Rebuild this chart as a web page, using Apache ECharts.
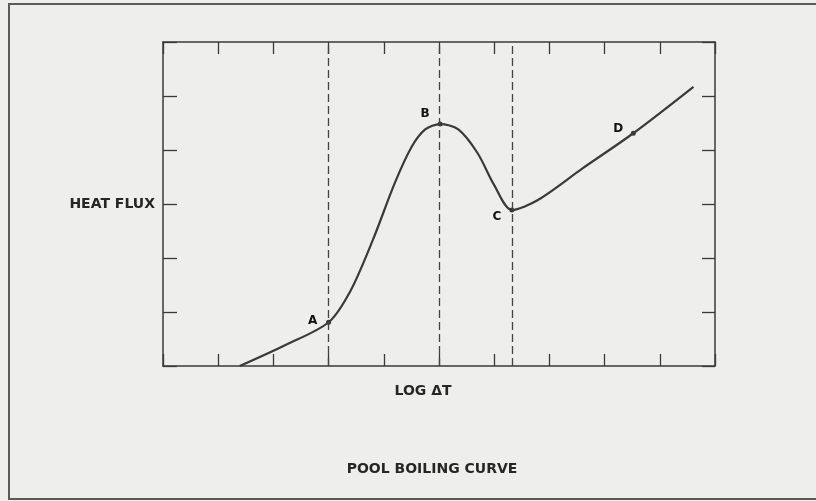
<!DOCTYPE html>
<html>
<head>
<meta charset="utf-8">
<script src="https://cdn.jsdelivr.net/npm/echarts@6/dist/echarts.min.js"></script>
<style>
html,body{margin:0;padding:0;background:#eeeeec;}
#chart{width:816px;height:501px;}
</style>
</head>
<body>
<div id="chart"></div>
<script>
// Curve (x = log ΔT units, y = heat flux units)
const curveX = [1.39, 2.2, 3.0, 3.4, 3.8, 4.2, 4.5, 4.75, 5.02, 5.35, 5.7, 6.0, 6.32, 6.8, 7.6, 8.52, 9.61];
const curveY = [0.0, 0.38, 0.81, 1.40, 2.33, 3.39, 4.05, 4.38, 4.48, 4.38, 3.94, 3.35, 2.89, 3.08, 3.66, 4.31, 5.17];
// Labelled points
const pointLabels = ['A', 'B', 'C', 'D'];
const pointX = [3.0, 5.02, 6.32, 8.52];
const pointY = [0.81, 4.48, 2.89, 4.31];
// Dashed regime boundaries
const regionBounds = [3.0, 5.0, 6.32];
// Axis ranges
const xRange = [0, 10, 1];
const yRange = [0, 6, 1];

const ink = '#3a3a3a';
const textInk = '#262626';
const font = 'DejaVu Sans';
const labelOffsets = {A: [-16, 7], B: [-15, -2], C: [-15, 15], D: [-15, 4]};

const chart = echarts.init(document.getElementById('chart'));
const axisBase = (pos, range, tickLen) => ({
  type: 'value', position: pos, min: range[0], max: range[1], interval: range[2],
  axisLine: {show: true, onZero: false, lineStyle: {color: ink, width: 1.5}},
  axisTick: {show: true, inside: true, length: tickLen, lineStyle: {color: ink, width: 1.3}},
  axisLabel: {show: false},
  splitLine: {show: false}
});
const xMain = Object.assign(axisBase('bottom', xRange, 12), {
  name: 'LOG ΔT', nameLocation: 'middle', nameGap: 18,
  nameTextStyle: {fontFamily: font, fontWeight: 'bold', fontSize: 14, color: textInk, padding: [0, 32, 0, 0]}
});
const yMain = Object.assign(axisBase('left', yRange, 14), {
  name: 'HEAT FLUX', nameLocation: 'middle', nameRotate: 0, nameGap: 8,
  nameTextStyle: {fontFamily: font, fontWeight: 'bold', fontSize: 14, color: textInk}
});

chart.setOption({
  backgroundColor: '#eeeeec',
  animation: false,
  title: {
    text: 'POOL BOILING CURVE', left: 427, top: 457, textAlign: 'center',
    textStyle: {fontFamily: font, fontWeight: 'bold', fontSize: 14, color: textInk}
  },
  grid: {left: 163, top: 42, width: 552, height: 324},
  xAxis: [xMain, axisBase('top', xRange, 12)],
  yAxis: [yMain, axisBase('right', yRange, 13)],
  graphic: [
    {type: 'polyline', shape: {points: [[816, 4], [9, 4], [9, 499], [816, 499]]},
     style: {stroke: '#5a5a5a', lineWidth: 2, fill: null}, silent: true}
  ],
  series: [
    {
      type: 'line', xAxisIndex: 0, yAxisIndex: 0,
      data: curveX.map((x, i) => [x, curveY[i]]),
      smooth: 0.3, showSymbol: false,
      lineStyle: {color: ink, width: 2.2},
      markLine: {
        silent: true, symbol: 'none', label: {show: false},
        lineStyle: {color: '#444', width: 1.3, type: [8, 4]},
        data: regionBounds.map(v => ({xAxis: v}))
      }
    },
    {
      type: 'scatter', xAxisIndex: 0, yAxisIndex: 0,
      symbolSize: 5, itemStyle: {color: ink, opacity: 1},
      label: {show: true, color: '#111', opacity: 1},
      data: pointLabels.map((n, i) => ({
        value: [pointX[i], pointY[i]], name: n,
        label: {show: true, position: 'top', distance: 0, offset: labelOffsets[n], formatter: n,
                fontFamily: font, fontWeight: 'bold', fontSize: 12, color: '#111', opacity: 1}
      }))
    }
  ]
});
</script>
</body>
</html>
